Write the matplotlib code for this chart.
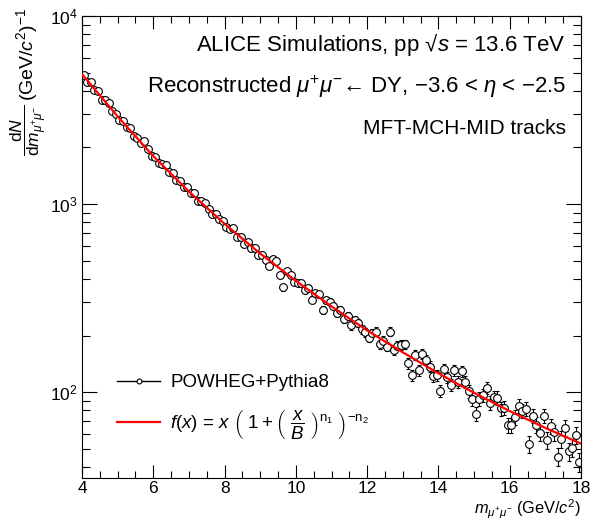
import numpy as np
import matplotlib
matplotlib.use("Agg")
import matplotlib.pyplot as plt
from matplotlib.lines import Line2D
from matplotlib.ticker import LogLocator, MultipleLocator, NullFormatter

plt.rcParams['font.family'] = ['Liberation Sans', 'DejaVu Sans']
plt.rcParams['mathtext.fontset'] = 'custom'
plt.rcParams['mathtext.rm'] = 'Liberation Sans'
plt.rcParams['mathtext.it'] = 'Liberation Sans:italic'
plt.rcParams['mathtext.bf'] = 'Liberation Sans:bold'

# bin centres of the mass histogram, 0.1 GeV/c^2 wide
mass = np.round(np.arange(4.05, 18.0, 0.1), 2)

# dN/dm per bin (one row per GeV)
counts = [
    4842, 4457, 4436, 4055, 3981, 3589, 3556, 3451, 3119, 3027,
    2786, 2767, 2570, 2535, 2307, 2259, 2104, 2163, 1954, 1799,
    1786, 1660, 1637, 1622, 1476, 1466, 1337, 1327, 1239, 1233,
    1148, 1143, 1042, 1040, 1019, 938, 887, 891, 830, 813,
    757, 741, 750, 671, 667, 614, 630, 581, 586, 535,
    536, 504, 466, 512, 501, 422, 361, 440, 421, 385,
    381, 380, 350, 359, 310, 335, 331, 273, 309, 303,
    289, 264, 275, 245, 254, 227, 241, 233, 216, 208,
    195, 207, 210, 180, 188, 175, 210, 168, 177, 179,
    180, 143, 123, 158, 131, 160, 149, 137, 122, 123,
    102, 133, 120, 109, 131, 114, 129, 114, 101, 92.3,
    76.7, 92.3, 96.6, 105.9, 88.1, 94.4, 93.5, 82.2, 82.8, 66.8,
    67.0, 73.6, 84.9, 79.6, 81.7, 53.0, 75.0, 67.1, 60.8, 75.2,
    55.6, 66.2, 61.1, 45.5, 56.2, 64.7, 48.6, 50.7, 59.3, 42.6,
]

# statistical errors per bin
errors = [
    53.9, 51.7, 51.6, 49.3, 48.9, 46.4, 46.2, 45.5, 43.3, 42.6,
    40.9, 40.7, 39.3, 39.0, 37.2, 36.8, 35.5, 36.0, 34.2, 32.8,
    32.7, 31.6, 31.3, 31.2, 29.8, 29.7, 28.3, 28.2, 27.3, 27.2,
    26.2, 26.2, 25.0, 25.0, 24.7, 23.7, 23.1, 23.1, 22.3, 22.1,
    21.3, 21.1, 21.2, 20.1, 20.0, 19.2, 19.4, 18.7, 18.8, 17.9,
    17.9, 17.4, 16.7, 17.5, 17.3, 15.9, 14.7, 16.2, 15.9, 15.2,
    15.1, 15.1, 14.5, 14.7, 13.6, 14.2, 14.1, 12.8, 13.6, 13.5,
    13.2, 12.6, 12.8, 12.1, 12.3, 11.7, 12.0, 11.8, 11.4, 11.2,
    10.8, 11.1, 11.2, 10.4, 10.6, 10.2, 11.2, 10.0, 10.3, 10.4,
    10.4, 9.3, 8.6, 9.7, 8.9, 9.8, 9.5, 9.1, 8.6, 8.6,
    7.8, 8.9, 8.5, 8.1, 8.9, 8.3, 8.8, 8.3, 7.8, 7.4,
    6.8, 7.4, 7.6, 8.0, 7.3, 7.5, 7.5, 7.0, 7.0, 6.3,
    6.3, 6.6, 7.1, 6.9, 7.0, 5.6, 6.7, 6.3, 6.0, 6.7,
    5.8, 6.3, 6.1, 5.2, 5.8, 6.2, 5.4, 5.5, 6.0, 5.1,
]

# fitted curve, read at integer masses
fit_mass = [4, 5, 6, 7, 8, 9, 10, 11, 12, 13, 14, 15, 16, 17, 18]
fit_curve = [4909, 2924, 1799, 1167, 785, 546, 391, 286, 213, 163,
             126, 99.3, 79.4, 64.6, 53.3]

fig = plt.figure(figsize=(5.92, 5.2), dpi=100)
ax = fig.add_axes([82 / 592, 1 - 478 / 520, 499 / 592, 462 / 520])

ax.errorbar(mass, counts, yerr=errors, fmt='o', ms=5.6, mfc='white',
            mec='black', mew=0.8, ecolor='black', elinewidth=0.8,
            capsize=1.2, capthick=0.8, zorder=2)
ax.plot(fit_mass, fit_curve, color='red', lw=1.6, zorder=3)

ax.set_yscale('log')
ax.set_xlim(4, 18)
ax.set_ylim(35, 1e4)
ax.xaxis.set_major_locator(MultipleLocator(2))
ax.xaxis.set_minor_locator(MultipleLocator(0.5))
ax.yaxis.set_major_locator(LogLocator(base=10))
ax.yaxis.set_minor_locator(LogLocator(base=10, subs=np.arange(2, 10)))
ax.yaxis.set_minor_formatter(NullFormatter())
ax.tick_params(which='both', direction='in', top=True, right=True,
               labelsize=12.5, width=0.8)
ax.tick_params(axis='x', which='major', length=9.5, pad=2)
ax.tick_params(axis='x', which='minor', length=5)
ax.tick_params(axis='y', which='major', length=11, pad=3)
ax.tick_params(axis='y', which='minor', length=5.5)
for sp in ax.spines.values():
    sp.set_linewidth(0.8)

fig.text(566 / 592, 1 - 45 / 520,
         'ALICE Simulations, pp \u221a$s$ = 13.6 TeV',
         ha='right', va='center', fontsize=16)
fig.text(566 / 592, 1 - 87 / 520,
         'Reconstructed $\\mu^{+}\\mu^{-}$\u2190 DY, \u22123.6 < $\\eta$ < \u22122.5',
         ha='right', va='center', fontsize=16)
fig.text(566 / 592, 1 - 129 / 520, 'MFT-MCH-MID tracks',
         ha='right', va='center', fontsize=15)

# y title in two pieces: units on top, fraction right below them
units = fig.text(27 / 592, 1 - 8 / 520, '(GeV/$c^{2}$)$^{-1}$',
                 rotation=90, ha='center', va='top', fontsize=14)
renderer = fig.canvas.get_renderer()
ub = units.get_window_extent(renderer)
fig.text(29 / 592, (ub.y0 - 3) / fig.bbox.height,
         '$\\dfrac{\\mathrm{d}N}{\\mathrm{d}m_{\\mu^{+}\\mu^{-}}}$',
         rotation=90, ha='center', va='top', fontsize=12.5)

fig.text(581 / 592, 1 - 514 / 520,
         '$m_{\\mu^{+}\\mu^{-}}$ (GeV/$c^{2}$)',
         ha='right', va='baseline', fontsize=11.8)

handles = [
    Line2D([], [], color='black', lw=1, marker='o', ms=3.5, mfc='white', mew=0.8),
    Line2D([], [], color='red', lw=1.6),
]
labels = [
    'POWHEG+Pythia8',
    '$f(x)$ = $x$ $\\left(\\ 1 + \\left(\\ \\dfrac{x}{B}\\ \\right)^{\\mathrm{n}_{1}}\\ \\right)^{-\\mathrm{n}_{2}}$',
]
ax.legend(handles, labels, loc='upper left', bbox_to_anchor=(117 / 592, 1 - 374 / 520),
          bbox_transform=fig.transFigure, frameon=False, fontsize=13.5,
          handlelength=2.3, handletextpad=0.55, labelspacing=0.9,
          borderpad=0, borderaxespad=0)

fig.savefig('out.png', dpi=100)
